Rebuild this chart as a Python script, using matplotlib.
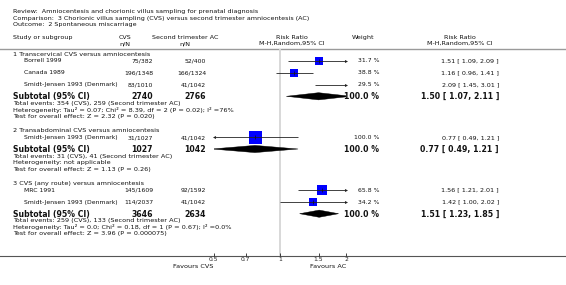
import matplotlib
matplotlib.use("Agg")
import matplotlib.pyplot as plt
import numpy as np
from matplotlib.patches import Polygon

# ---------------- data ----------------
title_lines = [
    "Review:  Amniocentesis and chorionic villus sampling for prenatal diagnosis",
    "Comparison:  3 Chorionic villus sampling (CVS) versus second trimester amniocentesis (AC)",
    "Outcome:  2 Spontaneous miscarriage",
]
group_titles = [
    "1 Transcervical CVS versus amniocentesis",
    "2 Transabdominal CVS versus amniocentesis",
    "3 CVS (any route) versus amniocentesis",
]
study_names = ["Borrell 1999", "Canada 1989", "Smidt-Jensen 1993 (Denmark)",
               "Smidt-Jensen 1993 (Denmark)",
               "MRC 1991", "Smidt-Jensen 1993 (Denmark)"]
study_group = [0, 0, 0, 1, 2, 2]
cvs_nN = ["75/382", "196/1348", "83/1010", "31/1027", "145/1609", "114/2037"]
ac_nN = ["52/400", "166/1324", "41/1042", "41/1042", "92/1592", "41/1042"]
weights = [31.7, 38.8, 29.5, 100.0, 65.8, 34.2]
rr = [1.51, 1.16, 2.09, 0.77, 1.56, 1.42]
rr_lo = [1.09, 0.96, 1.45, 0.49, 1.21, 1.00]
rr_hi = [2.09, 1.41, 3.01, 1.21, 2.01, 2.02]

sub_cvs_total = [2740, 1027, 3646]
sub_ac_total = [2766, 1042, 2634]
sub_rr = [1.50, 0.77, 1.51]
sub_lo = [1.07, 0.49, 1.23]
sub_hi = [2.11, 1.21, 1.85]
total_events = [
    "Total events: 354 (CVS), 259 (Second trimester AC)",
    "Total events: 31 (CVS), 41 (Second trimester AC)",
    "Total events: 259 (CVS), 133 (Second trimester AC)",
]
heterogeneity = [
    "Heterogeneity: Tau² = 0.07; Chi² = 8.39, df = 2 (P = 0.02); I² =76%",
    "Heterogeneity: not applicable",
    "Heterogeneity: Tau² = 0.0; Chi² = 0.18, df = 1 (P = 0.67); I² =0.0%",
]
overall_effect = [
    "Test for overall effect: Z = 2.32 (P = 0.020)",
    "Test for overall effect: Z = 1.13 (P = 0.26)",
    "Test for overall effect: Z = 3.96 (P = 0.000075)",
]
tick_values = [0.5, 0.7, 1, 1.5, 2]
tick_labels = ["0.5", "0.7", "1", "1.5", "2"]
favours_left = "Favours CVS"
favours_right = "Favours AC"

# ---------------- layout ----------------
W, H = 566, 285
fig = plt.figure(figsize=(W / 100, H / 100), dpi=100)
ax0 = fig.add_axes([0, 0, 1, 1])
ax0.set_xlim(0, W)
ax0.set_ylim(H, 0)
ax0.axis("off")

X0, X1 = 213.7, 346.0       # pixel positions of 0.5 and 2
Y_TOP, Y_AX = 49.0, 255.5
axf = fig.add_axes([X0 / W, (H - Y_AX) / H, (X1 - X0) / W, (Y_AX - Y_TOP) / H])
axf.set_xscale("log")
axf.set_xlim(0.5, 2)
axf.set_ylim(Y_AX, Y_TOP)
axf.patch.set_visible(False)
for s in axf.spines.values():
    s.set_visible(False)
axf.set_yticks([])
axf.set_xticks(tick_values)
axf.set_xticklabels(tick_labels)
axf.xaxis.set_minor_locator(matplotlib.ticker.NullLocator())
axf.tick_params(axis="x", direction="in", length=2, width=0.6, labelsize=4.3,
                pad=0.8, colors="#222222")

TXT = "#111111"
x_left = 13
x_study = 24
x_cvs = 153
x_ac = 206
x_w = 379
x_rr = 499

fs_title = 4.55
fs_head = 4.6
fs_group = 4.65
fs_row = 4.4
fs_rr = 4.6
fs_det = 4.65
fs_bold = 5.6

# title
for i, t in enumerate(title_lines):
    ax0.text(x_left, 11.8 + 6.4 * i, t, fontsize=fs_title, va="center", ha="left", color=TXT)

# header
ax0.text(x_left, 37.5, "Study or subgroup", fontsize=fs_head, va="center", color=TXT)
ax0.text(125, 37.5, "CVS", fontsize=fs_head, va="center", ha="center", color=TXT)
ax0.text(125, 43.5, "n/N", fontsize=fs_head, va="center", ha="center", color=TXT)
ax0.text(185, 37.5, "Second trimester AC", fontsize=fs_head, va="center", ha="center", color=TXT)
ax0.text(185, 43.5, "n/N", fontsize=fs_head, va="center", ha="center", color=TXT)
ax0.text(292, 37.5, "Risk Ratio", fontsize=fs_head, va="center", ha="center", color=TXT)
ax0.text(292, 43.5, "M-H,Random,95% CI", fontsize=fs_head, va="center", ha="center", color=TXT)
ax0.text(363, 37.5, "Weight", fontsize=fs_head, va="center", ha="center", color=TXT)
ax0.text(460, 37.5, "Risk Ratio", fontsize=fs_head, va="center", ha="center", color=TXT)
ax0.text(460, 43.5, "M-H,Random,95% CI", fontsize=fs_head, va="center", ha="center", color=TXT)
ax0.plot([0, W], [48.8, 48.8], color="#9a9a9a", lw=1.0)

# reference line at 1
axf.plot([1, 1], [Y_TOP, Y_AX], color="#d8d8d8", lw=1.4, zorder=0)
# axis line
ax0.plot([0, W], [Y_AX, Y_AX], color="#555555", lw=0.8)

BLUE = "#0000ff"


def draw_ci(y, est, lo, hi, w):
    a = max(lo, 0.5)
    b = min(hi, 2.0)
    axf.plot([a, b], [y, y], color="#222222", lw=0.6, zorder=3, solid_capstyle="butt")
    if hi > 2.0:
        axf.plot([2.0], [y], marker=">", ms=2.2, color="#222222", mew=0, zorder=3, clip_on=False)
    if lo < 0.5:
        axf.plot([0.5], [y], marker="<", ms=2.2, color="#222222", mew=0, zorder=3, clip_on=False)
    if 0.5 <= est <= 2.0:
        side_px = 1.3 * np.sqrt(w)
        axf.plot([est], [y], marker="s", ms=side_px * 0.72, color=BLUE, mew=0, zorder=2)
        axf.plot([est], [y], marker="|", ms=2.2, color="#111111", mew=0.5, zorder=4)


def draw_diamond(y, est, lo, hi):
    h = 3.6
    p = Polygon([(lo, y), (est, y - h), (hi, y), (est, y + h)], closed=True,
                facecolor="black", edgecolor="black", lw=0.3, zorder=3)
    axf.add_patch(p)


y = 54.3
for g in range(len(group_titles)):
    ax0.text(x_left, y, group_titles[g], fontsize=fs_group, va="center", color=TXT)
    idx = [i for i, sg in enumerate(study_group) if sg == g]
    y += 6.5
    for k, i in enumerate(idx):
        if k > 0:
            y += 12.0
        ax0.text(x_study, y, study_names[i], fontsize=fs_row, va="center", color=TXT)
        ax0.text(x_cvs, y, cvs_nN[i], fontsize=fs_row, va="center", ha="right", color=TXT)
        ax0.text(x_ac, y, ac_nN[i], fontsize=fs_row, va="center", ha="right", color=TXT)
        ax0.text(x_w, y, f"{weights[i]:.1f} %", fontsize=fs_row, va="center", ha="right", color=TXT)
        ax0.text(x_rr, y, f"{rr[i]:.2f} [ {rr_lo[i]:.2f}, {rr_hi[i]:.2f} ]", fontsize=fs_rr,
                 va="center", ha="right", color=TXT)
        draw_ci(y - 0.3, rr[i], rr_lo[i], rr_hi[i], weights[i])
    y += 12.0
    ax0.text(x_left, y, "Subtotal (95% CI)", fontsize=fs_bold, fontweight="bold", va="center", color=TXT)
    ax0.text(x_cvs, y, str(sub_cvs_total[g]), fontsize=fs_bold, fontweight="bold", va="center", ha="right", color=TXT)
    ax0.text(x_ac, y, str(sub_ac_total[g]), fontsize=fs_bold, fontweight="bold", va="center", ha="right", color=TXT)
    ax0.text(x_w, y, "100.0 %", fontsize=fs_bold, fontweight="bold", va="center", ha="right", color=TXT)
    ax0.text(x_rr, y, f"{sub_rr[g]:.2f} [ {sub_lo[g]:.2f}, {sub_hi[g]:.2f} ]", fontsize=fs_bold,
             fontweight="bold", va="center", ha="right", color=TXT)
    draw_diamond(y - 0.5, sub_rr[g], sub_lo[g], sub_hi[g])
    y += 6.7
    ax0.text(x_left, y, total_events[g], fontsize=fs_det, va="center", color=TXT)
    y += 6.5
    ax0.text(x_left, y, heterogeneity[g], fontsize=fs_det, va="center", color=TXT)
    y += 6.5
    ax0.text(x_left, y, overall_effect[g], fontsize=fs_det, va="center", color=TXT)
    y += 14.5

ax0.text(193, 266.5, favours_left, fontsize=fs_det, va="center", ha="center", color=TXT)
ax0.text(328, 266.5, favours_right, fontsize=fs_det, va="center", ha="center", color=TXT)

fig.savefig("out.png", dpi=100)
